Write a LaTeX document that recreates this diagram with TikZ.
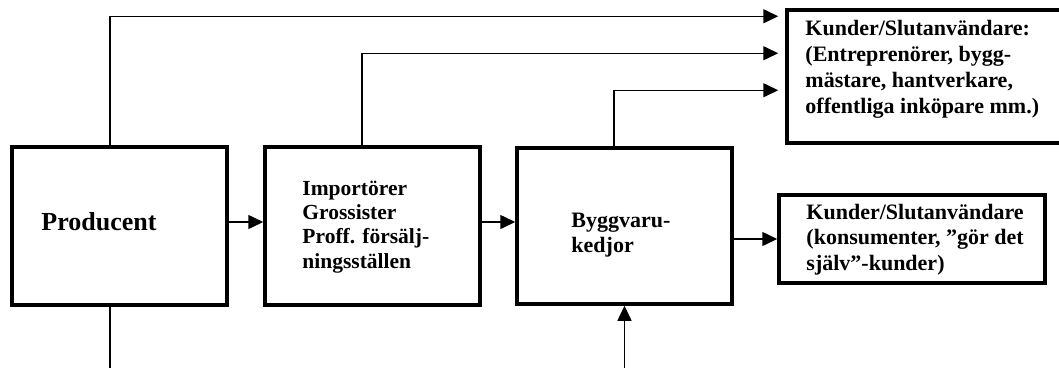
\documentclass[tikz,border=0pt]{standalone}
\usepackage{fontspec}
\setmainfont{Liberation Serif}
\usetikzlibrary{arrows.meta}

\tikzset{
  box/.style={draw, line width=3.5pt, inner sep=0pt},
  flow/.style={line width=1.5pt, -{Triangle[length=15pt,width=14pt]}},
  feed/.style={line width=1.5pt},
  boxtext/.style={anchor=base west, align=left, inner sep=0pt,
    font=\bfseries\fontsize{22}{25}\selectfont},
}

\begin{document}
\begin{tikzpicture}[x=1pt,y=-1pt]
\useasboundingbox (0,0) rectangle (1059,367);

% boxes
\node[box, minimum width=215pt, minimum height=158pt] (prod) at (119.5,226) {};
\node[box, minimum width=215pt, minimum height=158pt] (imp)  at (372.5,226) {};
\node[box, minimum width=215pt, minimum height=156pt] (bygg) at (624.5,226) {};
\node[box, minimum width=283pt, minimum height=133pt] (kund1) at (928.5,76.5) {};
\node[box, minimum width=266pt, minimum height=88pt]  (kund2) at (912,239) {};

% texts (base = last line)
\node[boxtext, font=\bfseries\fontsize{26}{30}\selectfont] (prodtext)
    at ([xshift=31pt,yshift=-4pt]prod.west) {Producent};
\node[boxtext, font=\bfseries\fontsize{21.5}{24.3}\selectfont] (imptext)
    at ([xshift=39pt,yshift=-42pt]imp.west)
    {Importörer\\Grossister\\Proff. försälj-\\ningsställen};
\node[boxtext] (byggtext) at ([xshift=56pt,yshift=-26pt]bygg.west) {Byggvaru-\\kedjor};
\node[boxtext, font=\bfseries\fontsize{22}{26}\selectfont] (kund1text)
    at ([xshift=20pt,yshift=-105pt]kund1.north west)
    {Kunder/Slutanvändare:\\(Entreprenörer, bygg-\\mästare, hantverkare,\\offentliga inköpare mm.)};
\node[boxtext, font=\bfseries\fontsize{22}{25.3}\selectfont] (kund2text)
    at ([xshift=29pt,yshift=-77pt]kund2.north west)
    {Kunder/Slutanvändare\\(konsumenter, ”gör det\\själv”-kunder)};

% chain
\draw[flow] ([yshift=4pt]prod.east) -- ([yshift=4pt]imp.west);
\draw[flow] ([yshift=4pt]imp.east) -- ([yshift=4pt]bygg.west);
\draw[flow] (bygg.east |- kund2.west) -- (kund2.west);

% direct deliveries
\draw[flow, shorten >=7pt] ([xshift=-9.5pt]prod.north) |- ([yshift=-8pt]kund1.north west);
\draw[flow, shorten >=7pt] ([xshift=-10.5pt]imp.north) |- ([yshift=-45pt]kund1.north west);
\draw[flow, shorten >=7pt] ([xshift=-10.5pt]bygg.north) |- ([yshift=-82pt]kund1.north west);

% lines leaving the picture
\coordinate (prodout) at (110,368);
\coordinate (byggin) at (624.5,368);
\draw[feed] ([xshift=-9.5pt]prod.south) -- (prodout);
\draw[flow] (byggin) -- (bygg.south);
\end{tikzpicture}
\end{document}
